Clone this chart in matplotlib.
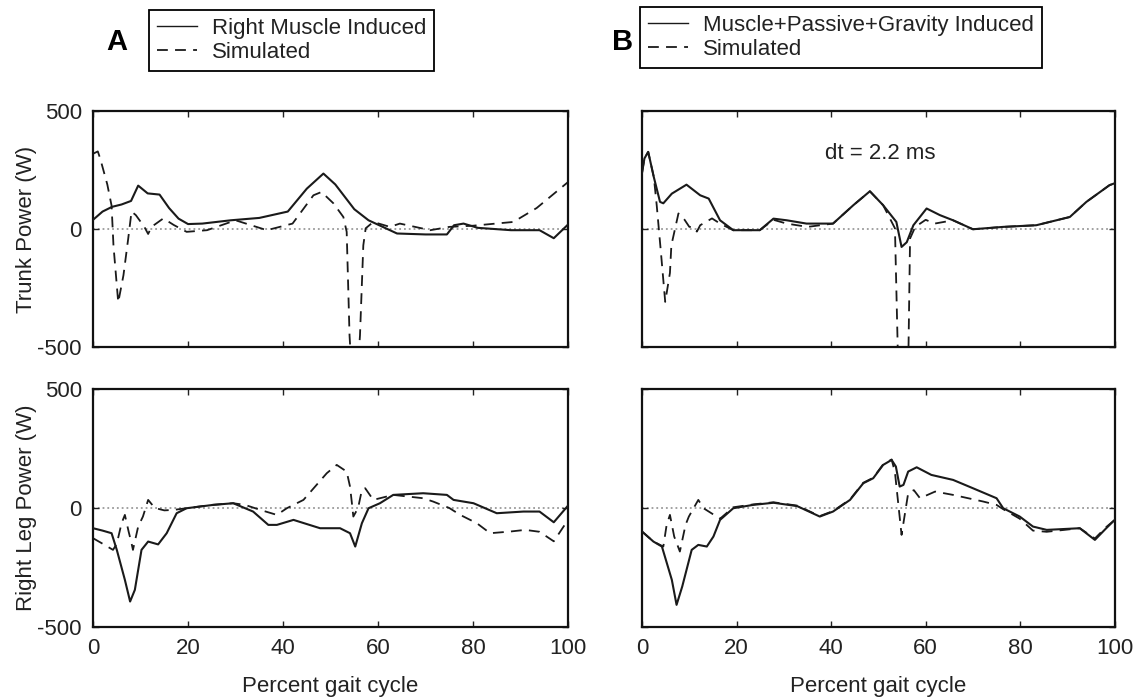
import matplotlib.pyplot as plt

plt.rcParams['font.family'] = ['Liberation Sans', 'DejaVu Sans']
plt.rcParams['axes.unicode_minus'] = False

# Panel A, trunk power (W) vs percent gait cycle
a_trunk_solid_x = [0, 2, 4, 6, 8, 9.5, 11.5, 14, 16, 18, 20, 23, 29, 35, 41, 45, 48.5, 51, 55, 58, 61,
                   64, 70, 74.5, 76, 78, 81, 88, 94, 97, 100]
a_trunk_solid_y = [40, 75, 95, 105, 120, 185, 152, 147, 90, 45, 22, 24, 38, 48, 75, 172, 236, 190, 85, 38, 10,
                   -18, -22, -22, 17, 24, 6, -4, -4, -38, 20]
a_trunk_sim_x = [0, 1, 1.5, 3, 3.9, 4.3, 5.3, 6.4, 7.4, 8.1, 9, 10.8, 11.6, 12.3, 14.8, 17, 19.7, 24, 30, 36.6,
                 42, 46.4, 48.1, 50.6, 52.7, 53.4, 54.0, 55.0, 56.2, 56.9, 57.4, 59, 62.5, 64.6, 71, 75, 80,
                 88.5, 93.4, 97, 100]
a_trunk_sim_y = [320, 330, 300, 190, 100, -70, -310, -195, -40, 75, 60, 10, -20, 10, 46, 18, -11, -4, 38, -4,
                 24, 144, 158, 110, 52, -11, -450, -800, -450, -68, 4, 31, 10, 24, -4, 10, 15,
                 31, 90, 150, 200]

# Panel A, right leg power
a_leg_solid_x = [0, 2, 3.9, 5, 6.7, 7.8, 8.8, 10.2, 11.6, 13.7, 15.5, 17.6, 19.7, 25.3, 29.5, 33.7, 36.9,
                 38.7, 42.2, 47.8, 52, 54.1, 55.2, 56.6, 58, 60.4, 63.2, 69.5, 74.5, 75.9, 80.1, 85, 90.6,
                 94, 97, 100]
a_leg_solid_y = [-85, -95, -106, -176, -302, -393, -344, -176, -141, -153, -106, -22, -1, 13, 20, -15, -71,
                 -71, -50, -85, -85, -106, -162, -64, -1, 20, 55, 62, 55, 34, 20, -22, -15,
                 -15, -60, 10]
a_leg_sim_x = [0, 2, 4.2, 5, 6, 6.7, 7.5, 8.1, 8.4, 9.5, 10.5, 11.6, 13, 15, 17, 20, 25, 29.5, 32, 35.2,
               38.7, 40.8, 44.3, 49.2, 51.3, 53.4, 54.1, 54.5, 54.8, 55.8, 56.6, 57.3, 59, 63.2, 69.5,
               71.6, 75, 77.3, 80.8, 83.6, 87.8, 91, 94, 97, 100]
a_leg_sim_y = [-127, -150, -176, -150, -64, -29, -100, -148, -176, -78, -36, 34, 0, -10, -8, 0, 13, 20, 13, -8,
               -29, -1, 34, 146, 181, 153, 90, 20, -36, 0, 76, 83, 34, 55, 41,
               27, 0, -29, -64, -106, -99, -92, -100, -140, -50]

# Panel B, trunk power
b_trunk_solid_x = [0, 0.5, 1.3, 2.5, 3.8, 4.5, 6.3, 9.4, 12.3, 14.1, 16.5, 19.3, 24.9, 27.8, 30.6, 34.8,
                   40.4, 44.7, 48.2, 51, 53.8, 54.9, 56, 57.4, 60.2, 63, 65.8, 70, 76.4, 83.4, 90.5, 94,
                   98.9, 100]
b_trunk_solid_y = [240, 300, 328, 220, 116, 110, 151, 189, 144, 130, 38, -4, -4, 45, 38, 24,
                   24, 102, 161, 102, 31, -75, -55, 17, 88, 60, 38, 0, 10, 17, 52, 116,
                   187, 195]
b_trunk_sim_x = [0, 0.5, 1.3, 2.5, 3.1, 4.0, 4.9, 5.9, 6.2, 7.7, 9.0, 10.0, 10.8, 11.6, 12.3, 14.8, 16.5,
                 19.3, 24.9, 27.8, 30.6, 35, 40.4, 44.7, 48.2, 51, 53.5, 54.2, 55.2, 56.3, 56.7, 57.8, 60,
                 61.9, 65.8, 70, 76.4, 83.4, 90.5, 94, 98.9, 100]
b_trunk_sim_y = [240, 300, 328, 220, 102, -100, -308, -185, -68, 67, 40, 10, 10, -10, 17, 46, 24,
                 -4, -4, 40, 24, 10, 24, 102, 161, 102, 4, -600, -800, -600, -39, 10, 40,
                 24, 38, 0, 10, 17, 52, 116, 187, 195]

# Panel B, right leg power
b_leg_solid_x = [0, 2.4, 4.2, 6.3, 7.3, 8.5, 10.5, 11.9, 13.7, 15.1, 16.5, 19.3, 23.5, 27.8, 32.8, 37.6,
                 40.4, 44, 46.8, 48.9, 51, 52.8, 53.7, 54.5, 55.3, 56.3, 58.1, 61.2, 65.8, 70, 75, 76.4,
                 79.9, 82.7, 85.6, 92.6, 95.8, 98.2, 100]
b_leg_solid_y = [-99, -141, -162, -302, -407, -330, -176, -155, -162, -120, -50, -1, 13, 22, 8, -36,
                 -15, 34, 104, 125, 181, 202, 174, 90, 97, 153, 171, 139, 118, 83, 41, -1,
                 -36, -78, -92, -85, -134, -85, -50]
b_leg_sim_x = [0, 2.4, 4.5, 5.2, 5.9, 6.8, 8, 9.2, 9.9, 11.9, 13, 16.5, 19.3, 23.5, 27.8, 32.8, 37.6,
               40.4, 44, 46.8, 48.9, 51, 52.8, 53.5, 54.9, 56.3, 57.5, 58.8, 62, 65.8, 72.2, 75, 76.4,
               79.9, 82.7, 85.6, 92.6, 95.8, 98.2, 100]
b_leg_sim_y = [-99, -141, -162, -71, -29, -120, -183, -71, -36, 34, -1, -45, 3, 15, 24, 10, -34,
               -13, 36, 106, 127, 183, 204, 150, -113, 62, 75, 41, 69, 55, 27, 13, -5,
               -45, -95, -100, -85, -128, -80, -50]

x_ticks = [0, 20, 40, 60, 80, 100]
y_ticks = [-500, 0, 500]

LINE_COLOR = '#1a1a1a'
TEXT_COLOR = '#222222'
DASH = (0, (6, 4))

fig = plt.figure(figsize=(11.39, 7), dpi=100)
ax_a_top = fig.add_axes([0.0817, 0.504, 0.417, 0.337])
ax_b_top = fig.add_axes([0.5637, 0.504, 0.415, 0.337])
ax_a_bot = fig.add_axes([0.0817, 0.1043, 0.417, 0.340])
ax_b_bot = fig.add_axes([0.5637, 0.1043, 0.415, 0.340])

panels = [
    (ax_a_top, a_trunk_solid_x, a_trunk_solid_y, a_trunk_sim_x, a_trunk_sim_y),
    (ax_b_top, b_trunk_solid_x, b_trunk_solid_y, b_trunk_sim_x, b_trunk_sim_y),
    (ax_a_bot, a_leg_solid_x, a_leg_solid_y, a_leg_sim_x, a_leg_sim_y),
    (ax_b_bot, b_leg_solid_x, b_leg_solid_y, b_leg_sim_x, b_leg_sim_y),
]

for ax, sx, sy, dx, dy in panels:
    ax.axhline(0, color='#9a9a9a', linestyle=':', linewidth=1.3, zorder=1)
    ax.plot(dx, dy, color=LINE_COLOR, linestyle=DASH, linewidth=1.3, zorder=2)
    ax.plot(sx, sy, color=LINE_COLOR, linewidth=1.5, zorder=3)
    ax.set_xlim(0, 100)
    ax.set_ylim(-500, 500)
    ax.set_xticks(x_ticks)
    ax.set_yticks(y_ticks)
    ax.tick_params(direction='in', top=True, right=True, length=4, width=1,
                   labelsize=16, colors=TEXT_COLOR, pad=8)
    for sp in ax.spines.values():
        sp.set_linewidth(1.6)
        sp.set_color('#111111')

for ax in (ax_a_top, ax_b_top):
    ax.tick_params(labelbottom=False)
for ax in (ax_b_top, ax_b_bot):
    ax.tick_params(labelleft=False)

ax_a_top.set_ylabel('Trunk Power (W)', fontsize=16, color=TEXT_COLOR, labelpad=0)
ax_a_bot.set_ylabel('Right Leg Power (W)', fontsize=16, color=TEXT_COLOR, labelpad=0)
ax_a_bot.set_xlabel('Percent gait cycle', fontsize=16, color=TEXT_COLOR, labelpad=12)
ax_b_bot.set_xlabel('Percent gait cycle', fontsize=16, color=TEXT_COLOR, labelpad=12)

ax_b_top.text(0.503, 0.82, 'dt = 2.2 ms', transform=ax_b_top.transAxes, ha='center', va='center',
              fontsize=16, color=TEXT_COLOR)

fig.text(117 / 1139, 1 - 42 / 700, 'A', fontsize=21, fontweight='bold', ha='center', va='center')
fig.text(623 / 1139, 1 - 42 / 700, 'B', fontsize=21, fontweight='bold', ha='center', va='center')

legend_kw = dict(loc='upper left', fontsize=16, frameon=True, fancybox=False, edgecolor='black',
                 framealpha=1, handlelength=1.8, handletextpad=0.7, borderpad=0.35,
                 labelspacing=0.15, borderaxespad=0)
h1, = ax_a_top.plot([], [], color=LINE_COLOR, linewidth=1.0)
h2, = ax_a_top.plot([], [], color=LINE_COLOR, linestyle=DASH, linewidth=1.3)
leg = fig.legend([h1, h2], ['Right Muscle Induced', 'Simulated'],
                 bbox_to_anchor=(149 / 1139, 1 - 10 / 700), **legend_kw)
leg.get_frame().set_linewidth(1.3)
for t in leg.get_texts():
    t.set_color(TEXT_COLOR)
leg = fig.legend([h1, h2], ['Muscle+Passive+Gravity Induced', 'Simulated'],
                 bbox_to_anchor=(640 / 1139, 1 - 7 / 700), **legend_kw)
leg.get_frame().set_linewidth(1.3)
for t in leg.get_texts():
    t.set_color(TEXT_COLOR)

plt.savefig('out.png', dpi=100)
